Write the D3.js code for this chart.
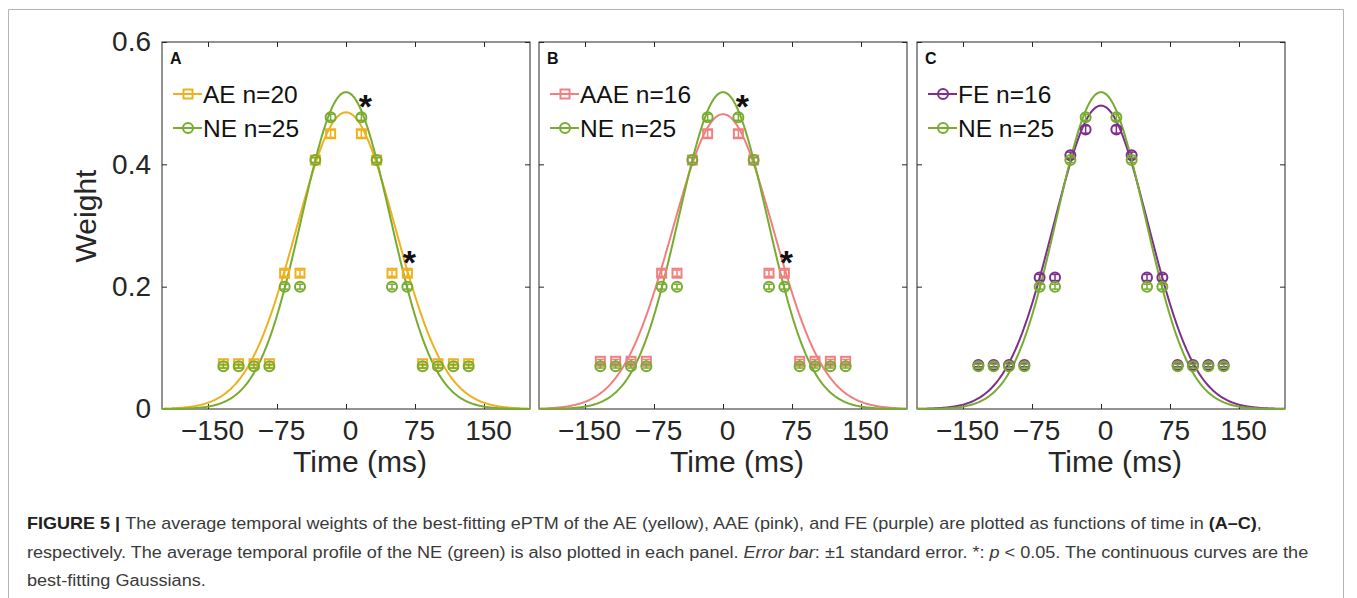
<!DOCTYPE html>
<html>
<head>
<meta charset="utf-8">
<script src="https://cdn.jsdelivr.net/npm/d3@7"></script>
<style>
  html, body { margin: 0; padding: 0; background: #fff; }
  svg { display: block; }
  text { font-family: "Liberation Sans", Arial, Helvetica, sans-serif; }
</style>
</head>
<body>
<svg id="fig" width="1357" height="598"></svg>
<script>
// ---------------- DATA ----------------
const timePoints = [-133.3, -116.7, -100, -83.3, -66.7, -50, -33.3, -16.7,
                    16.7, 33.3, 50, 66.7, 83.3, 100, 116.7, 133.3];

const neWeights  = [0.070, 0.070, 0.070, 0.070, 0.200, 0.200, 0.407, 0.477,
                    0.477, 0.407, 0.200, 0.200, 0.070, 0.070, 0.070, 0.070];
const aeWeights  = [0.074, 0.074, 0.074, 0.074, 0.222, 0.222, 0.407, 0.450,
                    0.450, 0.407, 0.222, 0.222, 0.074, 0.074, 0.074, 0.074];
const aaeWeights = [0.078, 0.078, 0.078, 0.078, 0.222, 0.222, 0.407, 0.450,
                    0.450, 0.407, 0.222, 0.222, 0.078, 0.078, 0.078, 0.078];
const feWeights  = [0.072, 0.072, 0.072, 0.072, 0.215, 0.215, 0.415, 0.457,
                    0.457, 0.415, 0.215, 0.215, 0.072, 0.072, 0.072, 0.072];

// standard errors (small, mostly hidden inside markers)
const neSE  = [0.003, 0.003, 0.003, 0.003, 0.004, 0.004, 0.004, 0.005,
               0.005, 0.004, 0.004, 0.004, 0.003, 0.003, 0.003, 0.003];
const aeSE  = [0.003, 0.003, 0.003, 0.003, 0.005, 0.005, 0.004, 0.006,
               0.006, 0.004, 0.005, 0.005, 0.003, 0.003, 0.003, 0.003];
const aaeSE = [0.003, 0.003, 0.003, 0.003, 0.005, 0.005, 0.004, 0.006,
               0.006, 0.004, 0.005, 0.005, 0.003, 0.003, 0.003, 0.003];
const feSE  = [0.003, 0.003, 0.003, 0.003, 0.005, 0.005, 0.005, 0.006,
               0.006, 0.005, 0.005, 0.005, 0.003, 0.003, 0.003, 0.003];

// best-fitting Gaussian parameters (mean 0)
const fitGroups = ["NE", "AE", "AAE", "FE"];
const fitAmp    = [0.518, 0.485, 0.482, 0.496];
const fitSigma  = [48, 54, 55, 51.5];

// significance asterisks (data coordinates: time, weight)
const starTimes   = [21, 69];
const starWeights = [0.508, 0.253];

const groupLabels = ["AE n=20", "AAE n=16", "FE n=16"];
const neLabel = "NE n=25";
const panelLetters = ["A", "B", "C"];

const xTicks = [-150, -75, 0, 75, 150];
const xTickLabels = ["\u2212150", "\u221275", "0", "75", "150"];
const yTicks = [0, 0.2, 0.4, 0.6];
const yTickLabels = ["0", "0.2", "0.4", "0.6"];

// ---------------- LAYOUT / STYLE ----------------
const colors = { NE: "#77AC30", AE: "#EDB120", AAE: "#F08080", FE: "#7E2F8E" };
const axisColor = "#262626";
const panelLefts = [162, 539, 917];
const panelWidth = 368;
const plotTop = 42, plotBottom = 409;

const panels = [
  { letter: panelLetters[0], left: panelLefts[0], group: "AE",  label: groupLabels[0], w: aeWeights,  se: aeSE,  marker: "square", stars: true,  yLabels: true },
  { letter: panelLetters[1], left: panelLefts[1], group: "AAE", label: groupLabels[1], w: aaeWeights, se: aaeSE, marker: "square", stars: true,  yLabels: false },
  { letter: panelLetters[2], left: panelLefts[2], group: "FE",  label: groupLabels[2], w: feWeights,  se: feSE,  marker: "circle", stars: false, yLabels: false }
];

const svg = d3.select("#fig");
svg.append("rect").attr("width", 1357).attr("height", 598).attr("fill", "#fff");
// outer figure frame
svg.append("path")
  .attr("d", "M8.5,620 V9.5 H1343.5 V620")
  .attr("fill", "none").attr("stroke", "#b4b4b4").attr("stroke-width", 1);

const tGrid = d3.range(-200, 200.01, 1);
function gauss(i) { return t => fitAmp[i] * Math.exp(-(t * t) / (2 * fitSigma[i] * fitSigma[i])); }

function drawMarker(g, type, cx, cy, color) {
  if (type === "square") {
    g.append("rect").attr("x", cx - 4.5).attr("y", cy - 4.5).attr("width", 9).attr("height", 9)
      .attr("fill", "none").attr("stroke", color).attr("stroke-width", 2);
  } else {
    g.append("circle").attr("cx", cx).attr("cy", cy).attr("r", 5)
      .attr("fill", "none").attr("stroke", color).attr("stroke-width", 2);
  }
}

function drawSeries(g, x, y, w, se, type, color) {
  timePoints.forEach((t, i) => {
    const cx = x(t), cy = y(w[i]);
    const y1 = y(w[i] - se[i]), y2 = y(w[i] + se[i]);
    g.append("line").attr("x1", cx).attr("x2", cx).attr("y1", y1).attr("y2", y2)
      .attr("stroke", color).attr("stroke-width", 1.5);
    [y1, y2].forEach(yy => g.append("line").attr("x1", cx - 3.5).attr("x2", cx + 3.5)
      .attr("y1", yy).attr("y2", yy).attr("stroke", color).attr("stroke-width", 1.5));
    drawMarker(g, type, cx, cy, color);
  });
}

panels.forEach(p => {
  const x = d3.scaleLinear().domain([-200, 200]).range([p.left, p.left + panelWidth]);
  const y = d3.scaleLinear().domain([0, 0.6]).range([plotBottom, plotTop]);
  const g = svg.append("g");

  // axes (MATLAB style: inward ticks, boxed)
  const bottom = g.append("g").attr("transform", `translate(0,${plotBottom})`)
    .call(d3.axisBottom(x).tickValues(xTicks).tickSizeInner(-5).tickSizeOuter(0).tickPadding(11)
      .tickFormat((d, i) => xTickLabels[i]));
  const top = g.append("g").attr("transform", `translate(0,${plotTop})`)
    .call(d3.axisTop(x).tickValues(xTicks).tickSizeInner(-5).tickSizeOuter(0).tickFormat(""));
  const left = g.append("g").attr("transform", `translate(${p.left},0)`)
    .call(d3.axisLeft(y).tickValues(yTicks).tickSizeInner(-5).tickSizeOuter(0).tickPadding(11)
      .tickFormat((d, i) => p.yLabels ? yTickLabels[i] : ""));
  const right = g.append("g").attr("transform", `translate(${p.left + panelWidth},0)`)
    .call(d3.axisRight(y).tickValues(yTicks).tickSizeInner(-5).tickSizeOuter(0).tickFormat(""));
  [bottom, top, left, right].forEach(a => {
    a.select(".domain").remove();
    a.selectAll(".tick line").attr("stroke", axisColor);
    a.selectAll("text").attr("fill", axisColor).style("font-size", "28px")
      .style("font-family", '"Liberation Sans", Arial, sans-serif');
  });
  bottom.selectAll(".tick text").attr("dx", "4");
  g.append("rect").attr("x", p.left).attr("y", plotTop).attr("width", panelWidth)
    .attr("height", plotBottom - plotTop).attr("fill", "none").attr("stroke", axisColor).attr("stroke-width", 1);

  // fitted curves
  const gi = fitGroups.indexOf(p.group);
  const line = d3.line().x(d => x(d[0])).y(d => y(d[1]));
  g.append("path").datum(tGrid.map(t => [t, gauss(gi)(t)])).attr("d", line)
    .attr("fill", "none").attr("stroke", colors[p.group]).attr("stroke-width", 2);
  g.append("path").datum(tGrid.map(t => [t, gauss(0)(t)])).attr("d", line)
    .attr("fill", "none").attr("stroke", colors.NE).attr("stroke-width", 2);

  // data
  drawSeries(g, x, y, p.w, p.se, p.marker, colors[p.group]);
  drawSeries(g, x, y, neWeights, neSE, "circle", colors.NE);

  // asterisks
  if (p.stars) {
    starTimes.forEach((t, i) => {
      g.append("text").attr("x", x(t)).attr("y", y(starWeights[i]) + 20)
        .attr("text-anchor", "middle").style("font-size", "34px").style("font-weight", "bold")
        .attr("fill", "#111").text("*");
    });
  }

  // panel letter
  g.append("text").attr("x", p.left + 8).attr("y", plotTop + 22)
    .style("font-size", "16px").style("font-weight", "bold").attr("fill", "#111").text(p.letter);

  // legend
  const legendRows = [
    { label: p.label, color: colors[p.group], marker: p.marker },
    { label: neLabel, color: colors.NE, marker: "circle" }
  ];
  legendRows.forEach((r, i) => {
    const ly = plotTop + 52 + i * 34;
    g.append("line").attr("x1", p.left + 11).attr("x2", p.left + 40).attr("y1", ly).attr("y2", ly)
      .attr("stroke", r.color).attr("stroke-width", 2);
    drawMarker(g, r.marker, p.left + 26, ly, r.color);
    g.append("text").attr("x", p.left + 41).attr("y", ly + 8.5)
      .style("font-size", "24.5px").attr("fill", "#111").text(r.label);
  });

  // x label
  g.append("text").attr("x", p.left + panelWidth / 2 + 14).attr("y", 472)
    .attr("text-anchor", "middle").style("font-size", "30px").attr("fill", axisColor).text("Time (ms)");
});

// y label
svg.append("text").attr("transform", "translate(96,216) rotate(-90)")
  .attr("text-anchor", "middle").style("font-size", "30px").attr("fill", axisColor).text("Weight");

// ---------------- CAPTION ----------------
const capColor = "#3a3a3a";
const capLines = [
  { y: 529, width: 1236, parts: [
      { t: "FIGURE 5 | ", b: true },
      { t: "The average temporal weights of the best-fitting ePTM of the AE (yellow), AAE (pink), and FE (purple) are plotted as functions of time in " },
      { t: "(A\u2013C)", b: true }, { t: "," } ] },
  { y: 558, width: 1282, parts: [
      { t: "respectively. The average temporal profile of the NE (green) is also plotted in each panel. " },
      { t: "Error bar", i: true }, { t: ": \u00B11 standard error. *: " }, { t: "p", i: true },
      { t: " < 0.05. The continuous curves are the" } ] },
  { y: 586, width: null, parts: [ { t: "best-fitting Gaussians." } ] }
];
let lastScale = 1;
capLines.forEach(l => {
  const tx = svg.append("text").attr("x", 27).attr("y", l.y).style("font-size", "16px").attr("fill", capColor)
    .attr("xml:space", "preserve").style("white-space", "pre");
  l.parts.forEach(pt => {
    tx.append("tspan").text(pt.t)
      .style("font-weight", pt.b ? "bold" : null)
      .style("font-style", pt.i ? "italic" : null)
      .attr("fill", pt.b ? "#222" : capColor);
  });
  const nat = tx.node().getComputedTextLength();
  const s = l.width ? l.width / nat : lastScale;
  lastScale = s;
  tx.attr("transform", `translate(27,0) scale(${s},1) translate(-27,0)`);
});
</script>
</body>
</html>
